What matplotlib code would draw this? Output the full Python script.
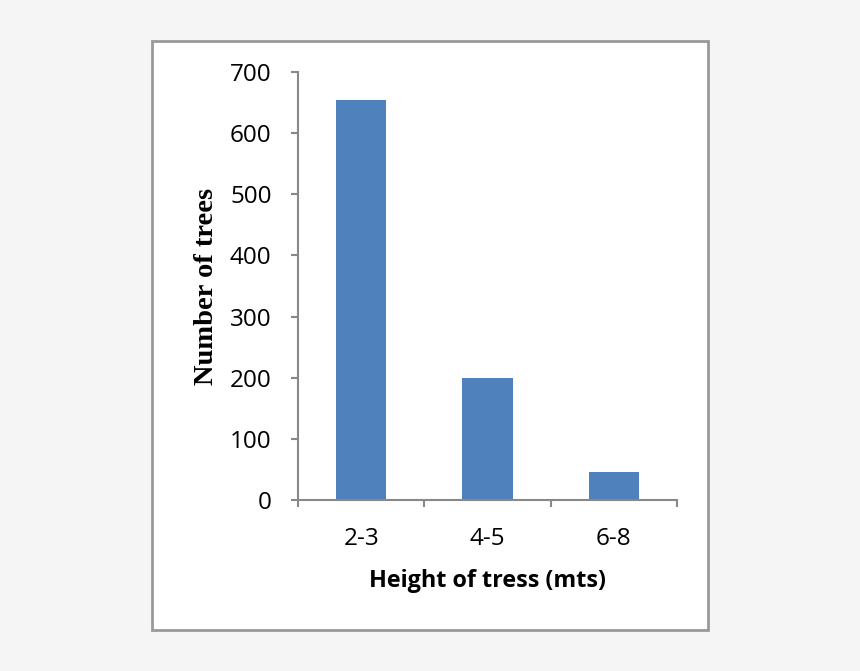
import matplotlib
matplotlib.use("Agg")
import matplotlib.pyplot as plt
from matplotlib.patches import Rectangle

categories = ["2-3", "4-5", "6-8"]
values = [655, 200, 45]
yticks = [0, 100, 200, 300, 400, 500, 600, 700]

fig = plt.figure(figsize=(8.6, 6.71), dpi=100)
fig.patch.set_facecolor("#f5f5f5")
# white framed panel
panel = Rectangle((152/860, 1-630/671), (708-152)/860, (630-41)/671,
                  transform=fig.transFigure, facecolor="white",
                  edgecolor="#999999", linewidth=2, zorder=-5)
fig.add_artist(panel)

ax = fig.add_axes([298/860, 1-500/671, (677-298)/860, (500-72)/671])
ax.set_zorder(5)
ax.set_facecolor("none")
x = list(range(len(categories)))
ax.bar(x, values, width=0.4, color="#4F81BD", zorder=2)
ax.set_xlim(-0.5, 2.5)
ax.set_ylim(0, 700)
ax.set_yticks(yticks)
ax.set_yticklabels([str(v) for v in yticks], fontfamily="Open Sans", fontsize=17.5)
ax.set_xticks(x)
ax.set_xticklabels(categories, fontfamily="Open Sans", fontsize=17.5)
ax.set_xticks([-0.5, 0.5, 1.5, 2.5], minor=True)
ax.tick_params(axis="x", which="major", length=0, pad=19.5)
ax.tick_params(axis="x", which="minor", length=5, width=1.5, color="#888888")
ax.tick_params(axis="y", length=5, width=1.5, color="#888888", pad=14)
for s in ["top", "right"]:
    ax.spines[s].set_visible(False)
for s in ["left", "bottom"]:
    ax.spines[s].set_color("#888888")
    ax.spines[s].set_linewidth(1.5)

ax.set_xlabel("Height of tress (mts)", fontfamily="Open Sans", fontweight="bold",
              fontsize=16.8, labelpad=13)
ax.set_ylabel("Number of trees", fontfamily="Liberation Serif", fontweight="bold",
              fontsize=20.5, labelpad=8)

fig.savefig("out.png", dpi=100, facecolor=fig.get_facecolor())
